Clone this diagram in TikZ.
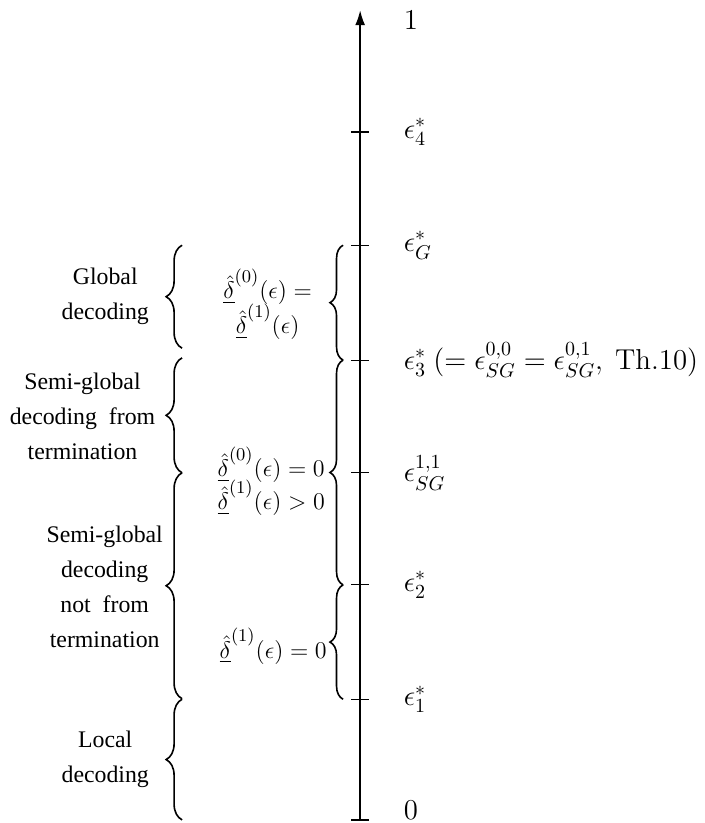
\documentclass[tikz,border=0pt]{standalone}
\usepackage{amsmath,amssymb}
\usepackage[no-math]{fontspec}
\setmainfont{Liberation Serif}
\usetikzlibrary{arrows.meta,decorations.pathreplacing}

\newcommand{\dlow}[1]{\underline{\hat{\delta}}^{(#1)}(\epsilon)}
\newcommand{\condfont}[1]{\fontsize{12.5}{#1}\selectfont\lineskiplimit=-6pt\relax}

\begin{document}
\begin{tikzpicture}[
  tickmark/.style={semithick},
  innerbrace/.style={thick,decorate,decoration={brace,amplitude=0.23cm}},
  outerbrace/.style={thick,decorate,decoration={brace,amplitude=0.28cm}},
  eps/.style={anchor=west,inner sep=0pt,font=\fontsize{14.4}{17}\selectfont},
  regime/.style={align=center,font=\fontsize{11.9}{17.5}\selectfont},
  cond/.style={inner sep=0pt,font=\condfont{15}}]
  \useasboundingbox (-6.33,-0.035) rectangle (6.05,14.43);
  % thresholds on the axis
  \coordinate (zero) at (0,0);
  \coordinate (e1) at (0,2.14);
  \coordinate (e2) at (0,4.15);
  \coordinate (eSG) at (0,6.12);
  \coordinate (e3) at (0,8.10);
  \coordinate (eG) at (0,10.12);
  \coordinate (e4) at (0,12.11);
  \coordinate (one) at (0,14.25);
  \draw[thick,{Bar[width=9pt]}-{Latex[length=7.5pt,width=5pt]}] (zero) -- (one);
  \foreach \t in {e1,e2,eSG,e3,eG,e4}
    \draw[tickmark] ([xshift=-0.16cm]\t) -- ([xshift=0.16cm]\t);
  \node[eps] (lone) at (0.76,14.08) {$1$};
  \node[eps] (lfour) at ([xshift=0.76cm]e4) {$\epsilon_4^*$};
  \node[eps] (lG) at ([xshift=0.76cm]eG) {$\epsilon_G^*$};
  \node[eps] (lthree) at ([xshift=0.76cm]e3)
    {$\epsilon_3^*\ (=\epsilon_{SG}^{0,0}=\epsilon_{SG}^{0,1},\ \mathrm{Th.10})$};
  \node[eps] (lSG) at ([xshift=0.76cm]eSG) {$\epsilon_{SG}^{1,1}$};
  \node[eps] (ltwo) at ([xshift=0.76cm]e2) {$\epsilon_2^*$};
  \node[eps] (lfirst) at ([xshift=0.76cm]e1) {$\epsilon_1^*$};
  \node[eps] (lzero) at (0.76,0.19) {$0$};
  % conditions on the delta functions
  \draw[innerbrace] ([xshift=-0.30cm]e3) -- ([xshift=-0.30cm]eG);
  \draw[innerbrace] ([xshift=-0.30cm]e2) -- ([xshift=-0.30cm]e3);
  \draw[innerbrace] ([xshift=-0.30cm]e1) -- ([xshift=-0.30cm]e2);
  \node[cond,align=center] (cglobal) at (-1.626,9.08) {$\dlow{0} =$\\[2.5pt]$\dlow{1}$};
  \node[cond,align=right,anchor=east] (csemi)
    at (-0.615,5.97) {$\dlow{0} = 0$\\[1.5pt]$\dlow{1} > 0$};
  \node[cond,anchor=east] (clocal) at (-0.58,3.07) {$\dlow{1} = 0$};
  % decoding regimes
  \draw[outerbrace] (-3.13,8.31) -- (-3.13,10.12);
  \draw[outerbrace] (-3.13,6.12) -- (-3.13,8.14);
  \draw[outerbrace] (-3.13,2.15) -- (-3.13,6.12);
  \draw[outerbrace] (-3.13,0.02) -- (-3.13,2.14);
  \node[regime] (rglobal) at (-4.48,9.22) {Global\\decoding};
  \node[regime] (rsemi) at (-4.88,7.12) {Semi-global\\decoding\ \ from\\termination};
  \node[regime] (rnotfrom) at (-4.49,4.11) {Semi-global\\decoding\\not\ \ from\\termination};
  \node[regime] (rlocal) at (-4.48,1.08) {Local\\decoding};
\end{tikzpicture}
\end{document}
